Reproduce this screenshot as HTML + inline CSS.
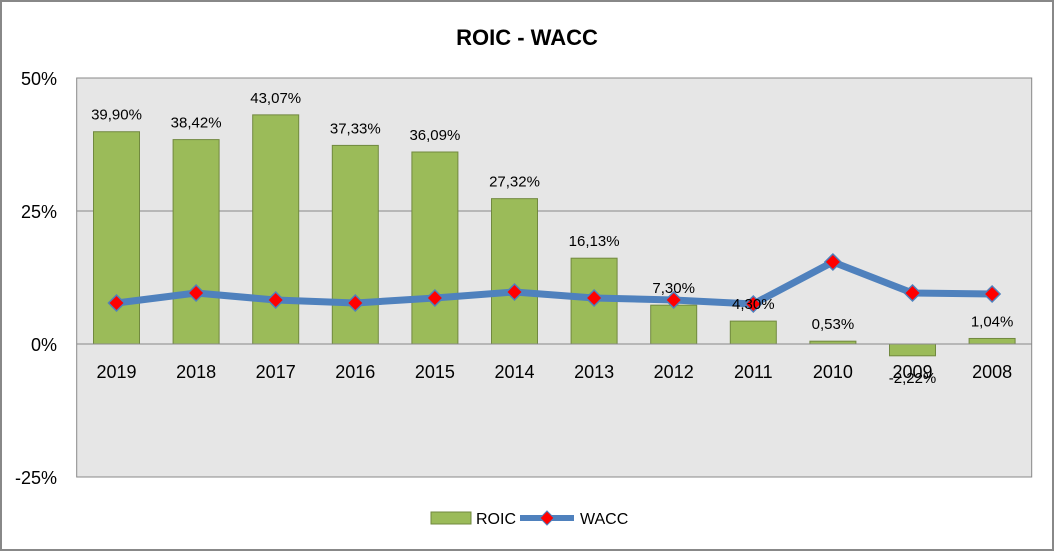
<!DOCTYPE html><html><head><style>body{margin:0;background:#fff}svg{display:block;font-family:"Liberation Sans",Arial,sans-serif}</style></head><body>
<svg width="1055" height="552" viewBox="0 0 1055 552">
<rect x="1" y="1" width="1052" height="549" fill="#fff" stroke="#888" stroke-width="2"/>
<text x="527" y="45" text-anchor="middle" font-size="22" font-weight="bold">ROIC - WACC</text>
<rect x="76.7" y="78" width="955" height="399" fill="#e6e6e6" stroke="#888" stroke-width="1"/>
<line x1="76.7" y1="211" x2="1031.7" y2="211" stroke="#888"/>
<g font-size="18" text-anchor="end">
<text x="57" y="85">50%</text><text x="57" y="218">25%</text><text x="57" y="351">0%</text><text x="57" y="484">-25%</text></g>
<g id="bars" fill="#9bbb59" stroke="#71893f" stroke-width="1"></g>
<line x1="76.7" y1="344" x2="1031.7" y2="344" stroke="#888"/>
<g id="cat" font-size="18" text-anchor="middle"></g>
<polyline id="ln" fill="none" stroke="#4f81bd" stroke-width="7" stroke-linejoin="round"/>
<g id="mk" fill="#ff0000" stroke="#4f81bd" stroke-width="1.5"></g>
<g id="lab" font-size="15" text-anchor="middle"></g>
<rect x="431" y="512" width="40" height="12" fill="#9bbb59" stroke="#71893f"/>
<text x="476" y="524" font-size="16">ROIC</text>
<line x1="520" y1="518" x2="574" y2="518" stroke="#4f81bd" stroke-width="6"/>
<path d="M547 511 L554 518 L547 525 L540 518Z" fill="#f00" stroke="#4f81bd"/>
<text x="580" y="524" font-size="16">WACC</text>
</svg>
<script>
var yrs=[2019,2018,2017,2016,2015,2014,2013,2012,2011,2010,2009,2008];
var v=[39.90,38.42,43.07,37.33,36.09,27.32,16.13,7.30,4.30,0.53,-2.22,1.04];
var w=[303,293,300,303,298,292,298,300,304,262,293,294];
var ns="http://www.w3.org/2000/svg",b=document.getElementById('bars'),l=document.getElementById('lab'),c=document.getElementById('cat'),m=document.getElementById('mk'),pts=[];
function el(p,t,a,tx){var e=document.createElementNS(ns,t);for(var k in a)e.setAttribute(k,a[k]);if(tx)e.textContent=tx;p.appendChild(e);}
yrs.forEach(function(y,i){var cx=116.5+79.6*i,h=v[i]*5.32,top=344-Math.max(h,0);
el(b,'rect',{x:cx-23,y:top,width:46,height:Math.abs(h)});
var ly=v[i]<0?383:top-12;
el(l,'text',{x:cx,y:ly},v[i].toFixed(2).replace('.',',')+'%');
el(c,'text',{x:cx,y:378},y);
pts.push(cx+','+w[i]);
el(m,'path',{d:'M'+cx+' '+(w[i]-8)+' L'+(cx+8)+' '+w[i]+' L'+cx+' '+(w[i]+8)+' L'+(cx-8)+' '+w[i]+'Z'});});
document.getElementById('ln').setAttribute('points',pts.join(' '));
</script>
</body></html>
